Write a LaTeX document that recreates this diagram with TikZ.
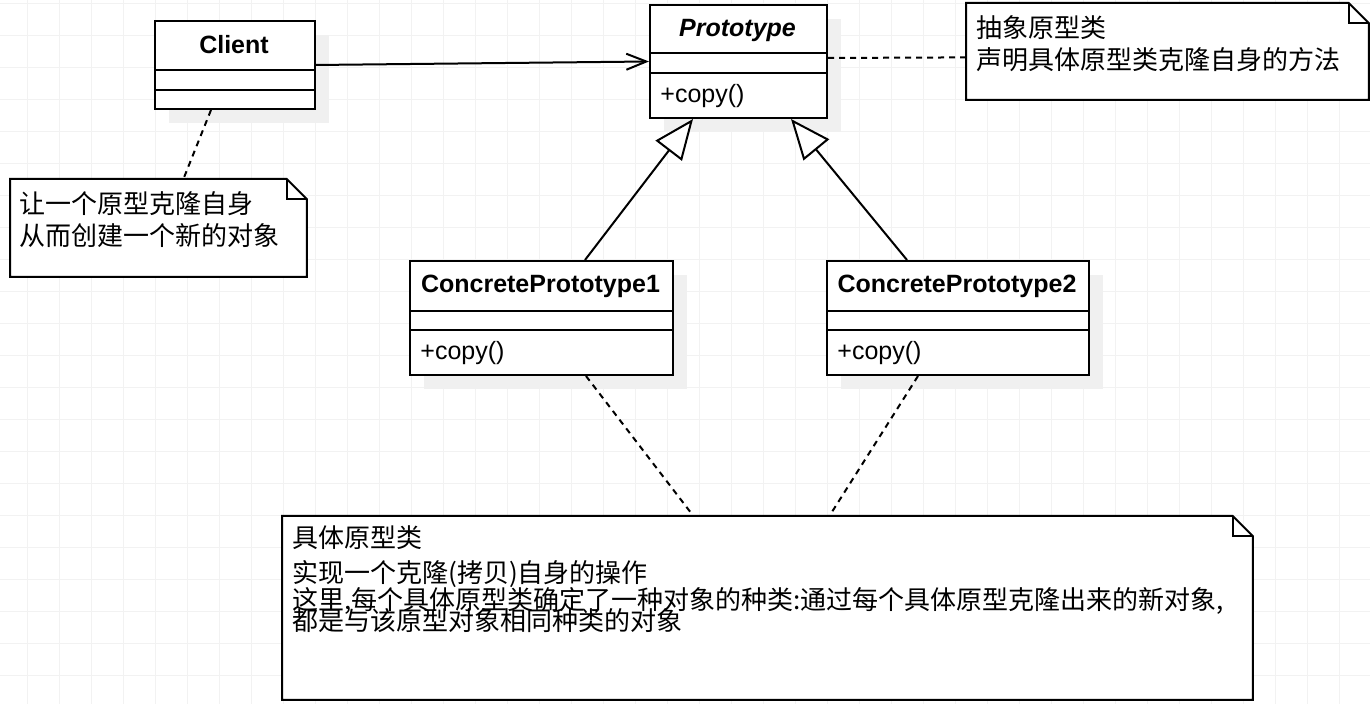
\documentclass[tikz,border=0pt]{standalone}
\usepackage{fontspec}
\setmainfont{Liberation Sans}
\newfontfamily\cjk{Noto Sans CJK SC}
\usetikzlibrary{arrows.meta}
\usetikzlibrary{shadows}
\definecolor{gridgray}{HTML}{F2F2F2}
\definecolor{shadowgray}{HTML}{F0F0F0}
\tikzset{gridline/.style = {draw=gridgray, line width=0.5pt}}
\tikzset{classbox/.style = {draw, fill=white, line width=1pt, anchor=north west, inner sep=0pt,
                            general shadow={fill=shadowgray, shadow xshift=7pt, shadow yshift=-7pt}}}
\tikzset{classname/.style = {font=\fontsize{12.5pt}{15pt}\selectfont\bfseries, anchor=base, inner sep=0pt}}
\tikzset{member/.style = {font=\fontsize{12.5pt}{15pt}\selectfont, anchor=base west, inner sep=0pt}}
\tikzset{notebox/.style = {anchor=north west, inner sep=0pt}}
\tikzset{noteline/.style = {draw, fill=white, line width=1pt, line join=miter}}
\tikzset{notetext/.style = {font=\cjk\fontsize{13pt}{16pt}\selectfont, anchor=base west, align=left, inner sep=0pt}}
\tikzset{notelink/.style = {line width=1pt, dash pattern=on 3pt off 2.5pt}}
\tikzset{assoc/.style = {line width=1pt, -{Straight Barb[length=10pt,width=8pt]}}}
\tikzset{inherit/.style = {line width=1pt, -{Triangle[open,length=20pt,width=16.5pt,fill=white]}}}
% note frame with folded corner
\newcommand{\notefold}[1]{%
  \draw[noteline] (#1.south west) -- (#1.north west) -- ([xshift=-10pt]#1.north east)
        -- ([yshift=-10pt]#1.north east) -- (#1.south east) -- cycle;
  \draw[noteline, fill=none] ([xshift=-10pt]#1.north east) -- ([xshift=-10pt,yshift=-10pt]#1.north east)
        -- ([yshift=-10pt]#1.north east);}
\begin{document}
\begin{tikzpicture}[x=0.5pt, y=-0.5pt]
    \useasboundingbox (0,0) rectangle (1370,704);
    \fill[white] (0,0) rectangle (1370,704);
    % grid
    \foreach \gx in {27,59,...,1370} \draw[gridline] (\gx,0) -- (\gx,704);
    \foreach \gy in {4,36,...,704} \draw[gridline] (0,\gy) -- (1370,\gy);

    % classes
    \node[classbox, minimum width=80pt, minimum height=44pt] (client) at (154,20) {};
    \draw[line width=1pt] ([yshift=-25pt]client.north west) -- ([yshift=-25pt]client.north east);
    \draw[line width=1pt] ([yshift=-35pt]client.north west) -- ([yshift=-35pt]client.north east);
    \node[classname] (clientname) at (234,54) {Client};

    \node[classbox, minimum width=88.5pt, minimum height=56.5pt] (proto) at (649,4) {};
    \draw[line width=1pt] ([yshift=-24.5pt]proto.north west) -- ([yshift=-24.5pt]proto.north east);
    \draw[line width=1pt] ([yshift=-34.5pt]proto.north west) -- ([yshift=-34.5pt]proto.north east);
    \node[classname, font=\fontsize{12.5pt}{15pt}\selectfont\bfseries\itshape] (protoname) at (737.5,37) {Prototype};
    \node[member] (protocopy) at (660,103) {+copy()};

    \node[classbox, minimum width=131.5pt, minimum height=57pt] (cpa) at (409,260) {};
    \draw[line width=1pt] ([yshift=-25.5pt]cpa.north west) -- ([yshift=-25.5pt]cpa.north east);
    \draw[line width=1pt] ([yshift=-35pt]cpa.north west) -- ([yshift=-35pt]cpa.north east);
    \node[classname] (cpaname) at (540.5,293) {ConcretePrototype1};
    \node[member] (cpacopy) at (420,360) {+copy()};

    \node[classbox, minimum width=131pt, minimum height=57pt] (cpb) at (826,260) {};
    \draw[line width=1pt] ([yshift=-25.5pt]cpb.north west) -- ([yshift=-25.5pt]cpb.north east);
    \draw[line width=1pt] ([yshift=-35pt]cpb.north west) -- ([yshift=-35pt]cpb.north east);
    \node[classname] (cpbname) at (957,293) {ConcretePrototype2};
    \node[member] (cpbcopy) at (837,360) {+copy()};

    % notes
    \node[notebox, minimum width=148pt, minimum height=48.5pt] (clientnote) at (10,179) {};
    \notefold{clientnote}
    \node[notetext] (clientnotetext) at (19,246) {让一个原型克隆自身\\从而创建一个新的对象};

    \node[notebox, minimum width=201pt, minimum height=48pt] (protonote) at (966,3) {};
    \notefold{protonote}
    \node[notetext] (protonotetext) at (976,70) {抽象原型类\\声明具体原型类克隆自身的方法};

    \node[notebox, minimum width=485pt, minimum height=91.5pt] (cpnote) at (282,516) {};
    \notefold{cpnote}
    \node[notetext] (cpnotetext) at (292,631) {具体原型类\\[1.5pt]
        实现一个克隆(拷贝)自身的操作\\[-2.5pt]
        这里,每个具体原型类确定了一种对象的种类:通过每个具体原型克隆出来的新对象,\\[-5.5pt]
        都是与该原型对象相同种类的对象};

    % connectors
    \draw[assoc] (client.east) -- (proto.west);
    \draw[inherit] ([xshift=21.75pt]cpa.north) -- ([xshift=-22.75pt]proto.south);
    \draw[inherit] ([xshift=-25.5pt]cpb.north) -- ([xshift=26.25pt]proto.south);
    \draw[notelink] ([xshift=-12pt]client.south) -- ([xshift=12.5pt]clientnote.north);
    \draw[notelink] ([yshift=1.75pt]proto.east) -- ([yshift=-3pt]protonote.west);
    \draw[notelink] ([xshift=22.25pt]cpa.south) -- ([xshift=-37pt]cpnote.north);
    \draw[notelink] ([xshift=-20pt]cpb.south) -- ([xshift=31pt]cpnote.north);
\end{tikzpicture}
\end{document}
